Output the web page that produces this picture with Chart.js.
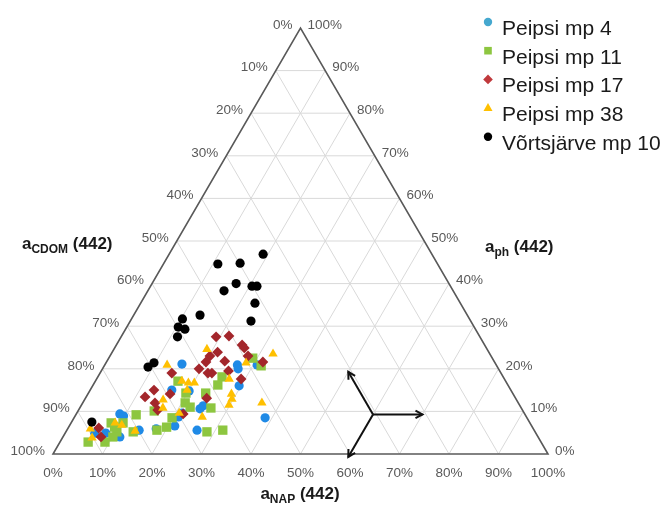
<!DOCTYPE html>
<html lang="et">
<head>
    <meta charset="UTF-8">
    <title>Neeldumise jaotus</title>
    <script src="https://cdn.jsdelivr.net/npm/chart.js"></script>
    <style>
        body {
            margin: 0;
            background: #ffffff;
        }
        .wrap {
            position: relative;
            width: 672px;
            height: 506px;
        }
    </style>
</head>
<body>
    <div class="wrap">
        <canvas id="ternary"></canvas>
    </div>

    <script>
        // Series names
        const seriesNames = ['Peipsi mp 4', 'Peipsi mp 11', 'Peipsi mp 17', 'Peipsi mp 38', 'Võrtsjärve mp 10'];

        // Shares in %: a_NAP(442) and a_ph(442); a_CDOM(442) = 100 - NAP - ph
        const mp4Nap = [15.5, 26.8, 27.4, 30.8, 29.6, 16.5, 20.1, 24.4, 24.7, 21.3, 21.0, 21.3, 26.3, 38.6, 14.6, 8.8, 9.8, 6.0, 8.2, 11.5, 17.9];
        const mp4Ph  = [21.1, 20.9, 20.0, 20.9, 16.0, 15.0, 14.8, 10.6, 11.3, 9.6, 8.7, 6.6, 5.6, 8.5, 5.6, 9.4, 8.9, 4.9, 4.9, 4.0, 5.9];

        const mp11Nap = [29.1, 31.7, 25.1, 25.2, 16.7, 19.7, 23.7, 20.7, 22.2, 26.5, 19.8, 15.4, 12.2, 19.8, 18.2, 28.5, 31.5, 5.7, 9.1, 8.1, 9.3, 10.3, 10.5, 13.6, 10.1];
        const mp11Ph  = [22.5, 20.7, 18.1, 16.2, 17.1, 14.3, 14.3, 12.0, 11.0, 10.8, 8.5, 10.1, 9.2, 6.3, 5.6, 5.2, 5.6, 2.8, 2.8, 7.3, 6.3, 5.2, 7.3, 5.2, 4.0];

        const mp17Nap = [19.2, 21.7, 25.4, 26.2, 27.9, 21.3, 20.2, 20.1, 23.8, 31.6, 19.5, 21.8, 22.6, 25.7, 14.5, 29.2, 12.9, 11.9, 16.6, 24.5, 14.6, 16.0, 21.6, 6.2, 7.7];
        const mp17Ph  = [27.5, 27.7, 25.6, 24.9, 23.0, 23.9, 23.0, 21.6, 21.8, 21.6, 20.0, 19.0, 19.0, 19.5, 19.0, 17.6, 15.0, 13.4, 14.1, 13.1, 12.0, 10.3, 9.4, 6.1, 4.0];

        const mp38Nap = [18.8, 32.7, 28.3, 12.6, 17.5, 19.0, 20.2, 26.8, 19.6, 29.0, 29.7, 29.8, 36.2, 15.9, 16.8, 25.8, 20.7, 13.9, 4.6, 8.9, 6.0, 10.5];
        const mp38Ph  = [24.6, 23.5, 21.4, 20.9, 17.1, 16.7, 16.7, 17.6, 15.0, 14.1, 12.9, 11.5, 12.0, 12.7, 10.8, 8.7, 9.6, 5.4, 5.9, 7.3, 3.8, 6.8];

        const vortsNap = [19.0, 11.0, 15.4, 17.0, 15.4, 20.5, 21.5, 23.1, 24.4, 13.4, 10.3, 10.4, 12.0, 11.4, 9.0, 9.7, 4.1];
        const vortsPh  = [46.9, 44.6, 44.8, 40.0, 38.3, 39.4, 39.4, 35.4, 31.2, 32.6, 31.7, 29.8, 29.3, 27.5, 20.4, 21.4, 7.5];

        // Tick values along each side
        const tickPercents = [0, 10, 20, 30, 40, 50, 60, 70, 80, 90, 100];

        const SIN60 = Math.sqrt(3) / 2;

        // ternary (NAP, ph) -> cartesian in an equilateral triangle of side 100
        function toXY(nap, ph) {
            return nap.map((n, i) => ({ x: n + ph[i] / 2, y: ph[i] * SIN60 }));
        }

        function px(chart, nap, ph) {
            return {
                x: chart.scales.x.getPixelForValue(nap + ph / 2),
                y: chart.scales.y.getPixelForValue(ph * SIN60)
            };
        }

        function line(ctx, a, b) {
            ctx.beginPath();
            ctx.moveTo(a.x, a.y);
            ctx.lineTo(b.x, b.y);
            ctx.stroke();
        }

        function arrow(ctx, a, b) {
            line(ctx, a, b);
            const ang = Math.atan2(b.y - a.y, b.x - a.x);
            const len = 8;
            ctx.beginPath();
            ctx.moveTo(b.x - len * Math.cos(ang - 0.5), b.y - len * Math.sin(ang - 0.5));
            ctx.lineTo(b.x, b.y);
            ctx.lineTo(b.x - len * Math.cos(ang + 0.5), b.y - len * Math.sin(ang + 0.5));
            ctx.stroke();
        }

        // "a" with a subscript, followed by " (442)"
        function axisTitle(ctx, sub, x, y, align) {
            const big = 'bold 17px "Liberation Sans", Arial, sans-serif';
            const small = 'bold 12px "Liberation Sans", Arial, sans-serif';
            ctx.font = big;
            const wa = ctx.measureText('a').width;
            const wr = ctx.measureText(' (442)').width;
            ctx.font = small;
            const ws = ctx.measureText(sub).width;
            const total = wa + ws + wr;
            let x0 = x;
            if (align === 'center') x0 = x - total / 2;
            ctx.textAlign = 'left';
            ctx.textBaseline = 'alphabetic';
            ctx.fillStyle = '#1a1a1a';
            ctx.font = big;
            ctx.fillText('a', x0, y);
            ctx.font = small;
            ctx.fillText(sub, x0 + wa, y + 4);
            ctx.font = big;
            ctx.fillText(' (442)', x0 + wa + ws, y);
        }

        function legendMarker(ctx, style, color, x, y) {
            ctx.fillStyle = color;
            ctx.beginPath();
            if (style === 'circle') {
                ctx.arc(x, y, 4.2, 0, Math.PI * 2);
            } else if (style === 'rect') {
                ctx.rect(x - 3.8, y - 3.8, 7.6, 7.6);
            } else if (style === 'rectRot') {
                ctx.moveTo(x, y - 4.8); ctx.lineTo(x + 4.8, y);
                ctx.lineTo(x, y + 4.8); ctx.lineTo(x - 4.8, y);
            } else if (style === 'triangle') {
                ctx.moveTo(x, y - 5); ctx.lineTo(x + 4.5, y + 3);
                ctx.lineTo(x - 4.5, y + 3);
            }
            ctx.closePath();
            ctx.fill();
        }

        const ternaryFrame = {
            id: 'ternaryFrame',
            beforeDatasetsDraw(chart) {
                const ctx = chart.ctx;
                ctx.save();
                // grid lines parallel to each side
                ctx.strokeStyle = '#d9d9d9';
                ctx.lineWidth = 1;
                for (let k = 10; k < 100; k += 10) {
                    line(ctx, px(chart, 0, k), px(chart, 100 - k, k));
                    line(ctx, px(chart, k, 0), px(chart, k, 100 - k));
                    line(ctx, px(chart, 100 - k, 0), px(chart, 0, 100 - k));
                }
                // outline
                ctx.strokeStyle = '#595959';
                ctx.lineWidth = 1.6;
                ctx.beginPath();
                const p0 = px(chart, 0, 0), p1 = px(chart, 100, 0), p2 = px(chart, 0, 100);
                ctx.moveTo(p0.x, p0.y);
                ctx.lineTo(p1.x, p1.y);
                ctx.lineTo(p2.x, p2.y);
                ctx.closePath();
                ctx.stroke();
                // reading direction arrows
                ctx.strokeStyle = '#111111';
                ctx.lineWidth = 2;
                const c = px(chart, 60, 9.3);
                arrow(ctx, c, px(chart, 50, 19.3));
                arrow(ctx, c, px(chart, 70, 9.3));
                arrow(ctx, c, px(chart, 60, -0.7));
                ctx.restore();
            },
            afterDraw(chart) {
                const ctx = chart.ctx;
                ctx.save();
                ctx.fillStyle = '#595959';
                ctx.font = '13.5px "Liberation Sans", Arial, sans-serif';
                ctx.textBaseline = 'middle';
                tickPercents.forEach(t => {
                    // a_NAP along the base
                    let p = px(chart, t, 0);
                    ctx.textAlign = 'center';
                    ctx.fillText(t + '%', p.x, p.y + 19);
                    // a_CDOM on the left side
                    p = px(chart, 0, t);
                    ctx.textAlign = 'right';
                    ctx.fillText((100 - t) + '%', p.x - 8, p.y - 3);
                    // a_ph on the right side
                    p = px(chart, 100 - t, t);
                    ctx.textAlign = 'left';
                    ctx.fillText(t + '%', p.x + 7, p.y - 3);
                });

                axisTitle(ctx, 'CDOM', 22, 249, 'left');
                axisTitle(ctx, 'ph', 485, 252, 'left');
                axisTitle(ctx, 'NAP', 300, 499, 'center');

                // legend
                ctx.font = '21px "Liberation Sans", Arial, sans-serif';
                ctx.textAlign = 'left';
                ctx.textBaseline = 'alphabetic';
                chart.data.datasets.forEach((ds, i) => {
                    const y = 35 + i * 28.7;
                    legendMarker(ctx, ds.pointStyle, ds.legendColor, 488, y - 13);
                    ctx.fillStyle = '#1a1a1a';
                    ctx.fillText(ds.label, 502, y);
                });
                ctx.restore();
            }
        };

        new Chart(document.getElementById('ternary'), {
            type: 'scatter',
            data: {
                datasets: [
                    { label: seriesNames[0], data: toXY(mp4Nap, mp4Ph), pointStyle: 'circle', pointRadius: 4.6,
                      backgroundColor: '#1f8ae6', borderColor: '#1f8ae6', legendColor: '#45a8cf', order: 4 },
                    { label: seriesNames[1], data: toXY(mp11Nap, mp11Ph), pointStyle: 'rect', pointRadius: 6.6,
                      backgroundColor: '#8dc640', borderColor: '#8dc640', legendColor: '#8dc640', order: 3 },
                    { label: seriesNames[2], data: toXY(mp17Nap, mp17Ph), pointStyle: 'rectRot', pointRadius: 5.4,
                      backgroundColor: '#a3262b', borderColor: '#a3262b', legendColor: '#c0393c', order: 2 },
                    { label: seriesNames[3], data: toXY(mp38Nap, mp38Ph), pointStyle: 'triangle', pointRadius: 5.4,
                      backgroundColor: '#ffc000', borderColor: '#ffc000', legendColor: '#ffc000', order: 1 },
                    { label: seriesNames[4], data: toXY(vortsNap, vortsPh), pointStyle: 'circle', pointRadius: 4.6,
                      backgroundColor: '#000000', borderColor: '#000000', legendColor: '#000000', order: 0 }
                ]
            },
            options: {
                responsive: true,
                maintainAspectRatio: false,
                animation: false,
                layout: {
                    padding: { left: 53, right: 124, top: 28, bottom: 52 }
                },
                elements: {
                    point: { borderWidth: 0, hoverRadius: 5 }
                },
                scales: {
                    x: { type: 'linear', min: 0, max: 100, display: false },
                    y: { type: 'linear', min: 0, max: 100 * SIN60, display: false }
                },
                plugins: {
                    legend: { display: false },
                    tooltip: { enabled: false }
                }
            },
            plugins: [ternaryFrame]
        });
    </script>
</body>
</html>
